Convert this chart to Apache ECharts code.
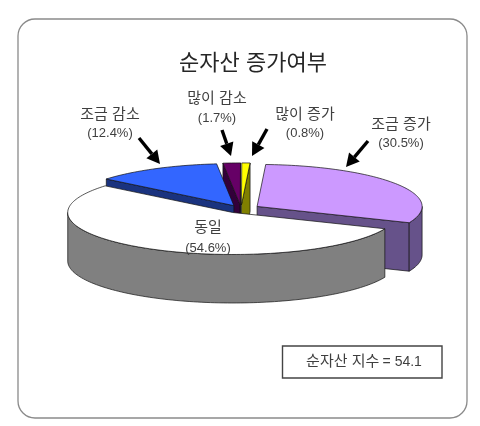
<!DOCTYPE html>
<html>
<head>
<meta charset="utf-8">
<style>html,body{margin:0;padding:0;background:#fff}#c{width:480px;height:426px}</style>
<script src="https://cdn.jsdelivr.net/npm/echarts@6/dist/echarts.min.js"></script>
</head>
<body>
<div id="c"></div>
<script>
const categories = ['조금 증가', '동일', '조금 감소', '많이 감소', '많이 증가'];
const values = [30.5, 54.6, 12.4, 1.7, 0.8];
const titleText = '순자산 증가여부';
const indexLabel = '순자산 지수';
const indexValue = '= 54.1';

const topColors  = ['#cc99ff', '#ffffff', '#3366ff', '#660066', '#ffff00'];
const sideColors = ['#66528a', '#808080', '#1a337f', '#33003a', '#808000'];
const explode    = [19, 16, 15, 16, 16];
const drawRank   = [1, 5, 4, 3, 2];
const startAngle = 3;
const pie = { cx: 241, cy: 209, rx: 165, ry: 42, depth: 48.5 };

const labelPos = [
  { x: 401, y: 125, gap: 18 }, { x: 208, y: 228, gap: 20 }, { x: 110, y: 115, gap: 18 },
  { x: 217, y: 99, gap: 19 },  { x: 305, y: 115, gap: 18 }
];
const arrows = [
  [139, 138, 160, 164], [222, 130, 231, 156], [267, 129, 252, 156], [368, 141, 346, 167]
];

const FONT = '"Liberation Sans","Noto Sans CJK KR",sans-serif';
const TEXT = '#3f3f3f';
const rad = d => d * Math.PI / 180;

function renderSlice(params, api) {
  const i = params.dataIndex;
  let a0 = startAngle;
  for (let k = 0; k < i; k++) a0 += values[k] * 3.6;
  const a1 = a0 + api.value(0) * 3.6;
  const mid = rad((a0 + a1) / 2);
  const cx = pie.cx + explode[i] * Math.sin(mid);
  const cy = pie.cy - explode[i] * Math.cos(mid) * pie.ry / pie.rx;
  const pt = (a, dz) => [cx + pie.rx * Math.sin(rad(a)), cy - pie.ry * Math.cos(rad(a)) + (dz || 0)];
  const apex = [cx, cy], apexLow = [cx, cy + pie.depth];
  const z = drawRank[i] * 10;
  const poly = (points, fill, zz) => ({
    type: 'polygon', shape: { points }, z2: zz,
    style: { fill, stroke: '#111', lineWidth: 0.7, lineJoin: 'round' }
  });
  const children = [];
  if (a0 % 360 > 180) children.push(poly([pt(a0), apex, apexLow, pt(a0, pie.depth)], sideColors[i], z));
  if (a1 % 360 < 180) children.push(poly([pt(a1), apex, apexLow, pt(a1, pie.depth)], sideColors[i], z + 1));
  const w0 = Math.max(a0, 90), w1 = Math.min(a1, 270);
  if (w1 > w0) {
    const up = [], low = [];
    for (let a = w0; a < w1; a += 1.5) { up.push(pt(a)); low.unshift(pt(a, pie.depth)); }
    up.push(pt(w1)); low.unshift(pt(w1, pie.depth));
    children.push(poly(up.concat(low), sideColors[i], z + 2));
  }
  const topPts = [apex];
  for (let a = a0; a < a1; a += 1.5) topPts.push(pt(a));
  topPts.push(pt(a1));
  children.push(poly(topPts, topColors[i], z + 3));
  const p = labelPos[i];
  const txt = (text, y, size) => ({
    type: 'text', z2: 200,
    style: { text, x: p.x, y, fill: TEXT, font: size + 'px ' + FONT, align: 'center', verticalAlign: 'middle' }
  });
  children.push(txt(categories[i], p.y, 15));
  children.push(txt('(' + api.value(0) + '%)', p.y + p.gap, 13));
  return { type: 'group', children };
}

function arrowGraphic(a) {
  const [x0, y0, x1, y1] = a;
  const L = Math.hypot(x1 - x0, y1 - y0), ux = (x1 - x0) / L, uy = (y1 - y0) / L;
  const hl = 13, hw = 7;
  const bx = x1 - ux * hl, by = y1 - uy * hl;
  return [
    { type: 'line', z: 20, shape: { x1: x0, y1: y0, x2: bx, y2: by }, style: { stroke: '#000', lineWidth: 3.4 } },
    { type: 'polygon', z: 20, shape: { points: [[x1, y1], [bx - uy * hw, by + ux * hw], [bx + uy * hw, by - ux * hw]] }, style: { fill: '#000' } }
  ];
}

const chart = echarts.init(document.getElementById('c'), null, { renderer: 'canvas' });
chart.setOption({
  animation: false,
  backgroundColor: '#ffffff',
  title: {
    text: titleText, left: 253, top: 64, padding: 0, textAlign: 'center', textVerticalAlign: 'middle',
    textStyle: { fontFamily: FONT, fontSize: 22, fontWeight: 'normal', color: '#262626' }
  },
  graphic: [
    { type: 'rect', z: -1, shape: { x: 18, y: 19, width: 449, height: 399, r: 17 },
      style: { fill: '#fff', stroke: '#8a8a8a', lineWidth: 1.3 } },
    { type: 'rect', shape: { x: 282.5, y: 346, width: 159.5, height: 32 },
      style: { fill: '#fff', stroke: '#444', lineWidth: 1.4 } },
    { type: 'text', style: {
        text: '{a|' + indexLabel + '} {b|' + indexValue + '}', x: 364, y: 362, align: 'center', verticalAlign: 'middle',
        rich: {
          a: { fontFamily: FONT, fontSize: 15, fill: TEXT },
          b: { fontFamily: FONT, fontSize: 14, fill: TEXT }
        }
    } }
  ].concat(...arrows.map(arrowGraphic)),
  series: [{
    type: 'custom',
    coordinateSystem: 'none',
    silent: true,
    renderItem: renderSlice,
    data: values.map((v, i) => ({ name: categories[i], value: [v] }))
  }]
});
</script>
</body>
</html>
